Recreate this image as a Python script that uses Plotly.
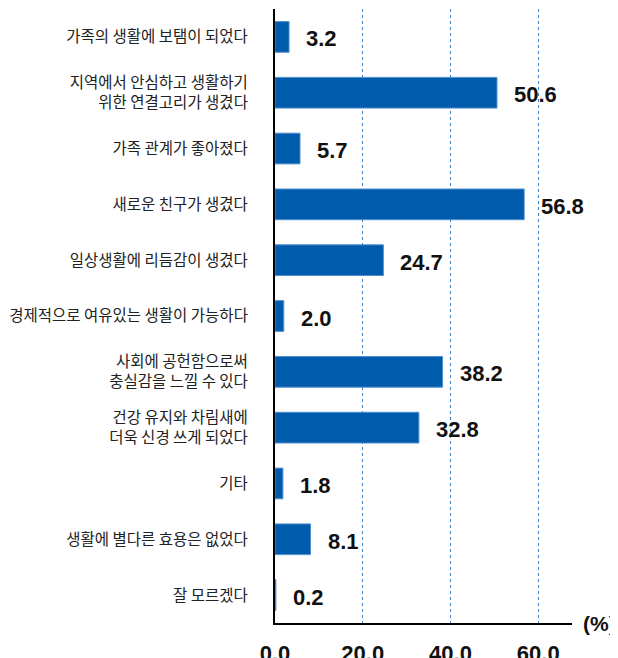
import plotly.graph_objects as go

# survey answers, top to bottom
categories = [
    "가족의 생활에 보탬이 되었다",
    "지역에서 안심하고 생활하기<br>위한 연결고리가 생겼다",
    "가족 관계가 좋아졌다",
    "새로운 친구가 생겼다",
    "일상생활에 리듬감이 생겼다",
    "경제적으로 여유있는 생활이 가능하다",
    "사회에 공헌함으로써<br>충실감을 느낄 수 있다",
    "건강 유지와 차림새에<br>더욱 신경 쓰게 되었다",
    "기타",
    "생활에 별다른 효용은 없었다",
    "잘 모르겠다",
]
values = [3.2, 50.6, 5.7, 56.8, 24.7, 2.0, 38.2, 32.8, 1.8, 8.1, 0.2]
x_ticks = [0, 20, 40, 60]

BAR_COLOR = "#005bac"
NUM_FONT = "Liberation Sans, Arial, sans-serif"
KR_FONT = "Noto Sans CJK KR, sans-serif"

fig = go.Figure()
fig.add_trace(
    go.Bar(
        x=values,
        y=categories,
        orientation="h",
        width=0.55,
        marker=dict(color=BAR_COLOR, line=dict(color="#4f8fd0", width=1)),
        hoverinfo="x+y",
    )
)

# value labels to the right of each bar
for cat, val in zip(categories, values):
    fig.add_annotation(
        x=val, y=cat, text=f"<b>{val:.1f}</b>",
        xanchor="left", yanchor="middle", xshift=15, yshift=-2,
        showarrow=False, font=dict(family=NUM_FONT, size=22, color="#111"),
    )

fig.add_annotation(
    xref="paper", yref="paper", x=1, y=0, text="<b>(%)</b>",
    xanchor="left", yanchor="middle", xshift=9,
    showarrow=False, font=dict(family=NUM_FONT, size=21, color="#111"),
)

# page body adds an 8px offset, so margins are shifted by that
fig.update_layout(
    width=618,
    height=658,
    margin=dict(l=267, r=54, t=1, b=43),
    plot_bgcolor="white",
    paper_bgcolor="white",
    showlegend=False,
    bargap=0.45,
)
fig.update_xaxes(
    range=[0, 67.7],
    tickvals=x_ticks,
    ticktext=[f"<b>{t:.1f}</b>" for t in x_ticks],
    tickfont=dict(family=NUM_FONT, size=22, color="#111"),
    ticklabelstandoff=10,
    automargin=False,
    showgrid=True,
    gridcolor="#3f7fc6",
    griddash="3px,3px",
    gridwidth=1,
    showline=True,
    linecolor="black",
    linewidth=2,
    zeroline=False,
    fixedrange=True,
)
fig.update_yaxes(
    categoryorder="array",
    categoryarray=categories,
    autorange="reversed",
    tickfont=dict(family=KR_FONT, size=15.5, color="#222"),
    ticklabelstandoff=22,
    automargin=False,
    showline=True,
    linecolor="black",
    linewidth=2,
    showgrid=False,
    fixedrange=True,
)

fig.write_html("out.html")
